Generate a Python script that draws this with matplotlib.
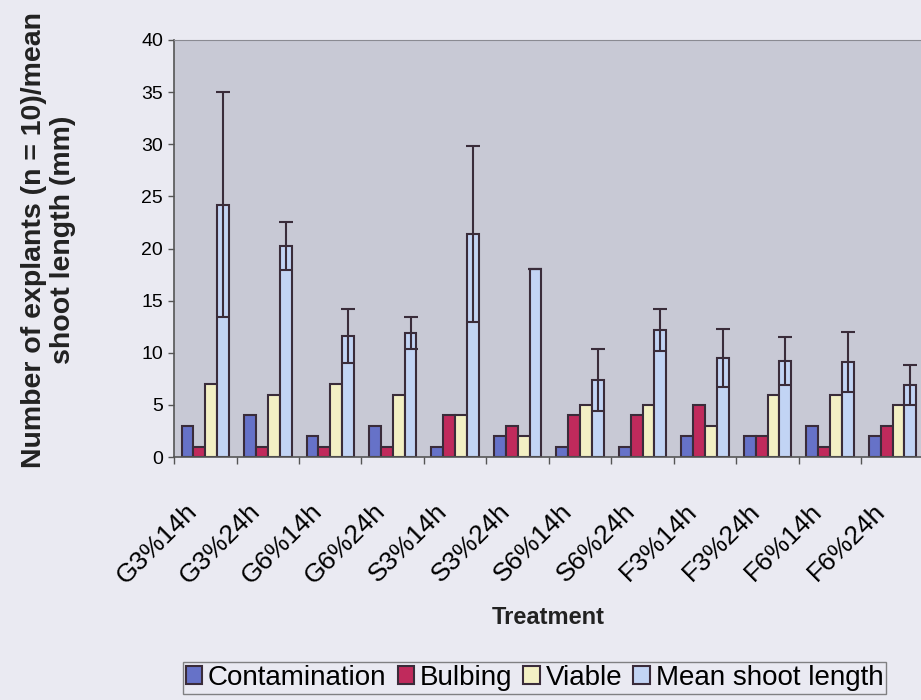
import numpy as np
import matplotlib.pyplot as plt
from matplotlib.transforms import ScaledTranslation

plt.rcParams['font.family'] = ['Liberation Sans', 'DejaVu Sans']

# Data
categories = ['G3%14h', 'G3%24h', 'G6%14h', 'G6%24h', 'S3%14h', 'S3%24h',
              'S6%14h', 'S6%24h', 'F3%14h', 'F3%24h', 'F6%14h', 'F6%24h']
contamination = [3, 4, 2, 3, 1, 2, 1, 1, 2, 2, 3, 2]
bulbing = [1, 1, 1, 1, 4, 3, 4, 4, 5, 2, 1, 3]
viable = [7, 6, 7, 6, 4, 2, 5, 5, 3, 6, 6, 5]
shoot_length = [24.2, 20.2, 11.6, 11.9, 21.4, 18.0, 7.4, 12.2, 9.5, 9.2, 9.1, 6.9]
shoot_err = [10.8, 2.3, 2.6, 1.5, 8.4, 0, 3.0, 2.0, 2.8, 2.3, 2.9, 1.9]

series_names = ['Contamination', 'Bulbing', 'Viable', 'Mean shoot length']
series_colors = ['#6672C8', '#C02A5C', '#F3F0C4', '#C2D4F4']

FIG_BG = '#EAEAF2'
AX_BG = '#C8C9D5'
EDGE = '#3A2C3A'

fig = plt.figure(figsize=(9.21, 7.0), dpi=100, facecolor=FIG_BG)
ax = fig.add_axes([0.189, 0.347, 0.814, 0.596])
ax.set_facecolor(AX_BG)

x = np.arange(len(categories)) + 0.5
width = 0.19
all_series = [contamination, bulbing, viable, shoot_length]

for k, (vals, name, col) in enumerate(zip(all_series, series_names, series_colors)):
    pos = x + (k - 1.5) * width
    ax.bar(pos, vals, width, color=col, edgecolor=EDGE, linewidth=1.5,
           label=name, zorder=2)
    if k == 3:
        ax.errorbar(pos, vals, yerr=shoot_err, fmt='none', ecolor=EDGE,
                    elinewidth=1.5, capsize=4.7, capthick=1.5, zorder=3)

ax.set_xlim(0, len(categories))
ax.set_ylim(0, 40)
ax.set_yticks(np.arange(0, 41, 5))
ax.tick_params(axis='y', labelsize=14, length=4, width=1, color='#555555', pad=4)

# category ticks at group boundaries, labels at centres
ax.set_xticks(np.arange(0, len(categories) + 1), minor=True)
ax.set_xticks(x)
ax.set_xticklabels(categories, rotation=45, ha='right', rotation_mode='anchor',
                   va='top', fontsize=19)
ax.tick_params(axis='x', which='major', length=0, pad=30)
ax.tick_params(axis='x', which='minor', length=5, width=1, color='#555555')
for lab in ax.get_xticklabels():
    lab.set_transform(lab.get_transform() + ScaledTranslation(-0.2, 0, fig.dpi_scale_trans))

for side in ['left', 'bottom']:
    ax.spines[side].set_color('#555555')
    ax.spines[side].set_linewidth(1.2)
ax.spines['top'].set_color('#8A8A92')
ax.spines['right'].set_visible(False)

fig.text(49 / 921, 1 - 240 / 700, 'Number of explants (n = 10)/mean\nshoot length (mm)',
         rotation=90, ha='center', va='center', ma='center', fontsize=20.5,
         fontweight='bold', color='#222222', linespacing=1.15)
fig.text(548 / 921, 1 - 618 / 700, 'Treatment', ha='center', va='center',
         fontsize=17, fontweight='bold', color='#222222')

leg = fig.legend(loc='upper left', bbox_to_anchor=(183 / 921, 1 - 662 / 700),
                 borderaxespad=0, ncol=4, fontsize=20, handlelength=0.6,
                 handleheight=0.6, handletextpad=0.2, columnspacing=0.4,
                 borderpad=0.1, frameon=True, fancybox=False, facecolor=FIG_BG,
                 edgecolor='#666666')
leg.get_frame().set_linewidth(1.0)

fig.savefig('out.png', dpi=100, facecolor=FIG_BG)
